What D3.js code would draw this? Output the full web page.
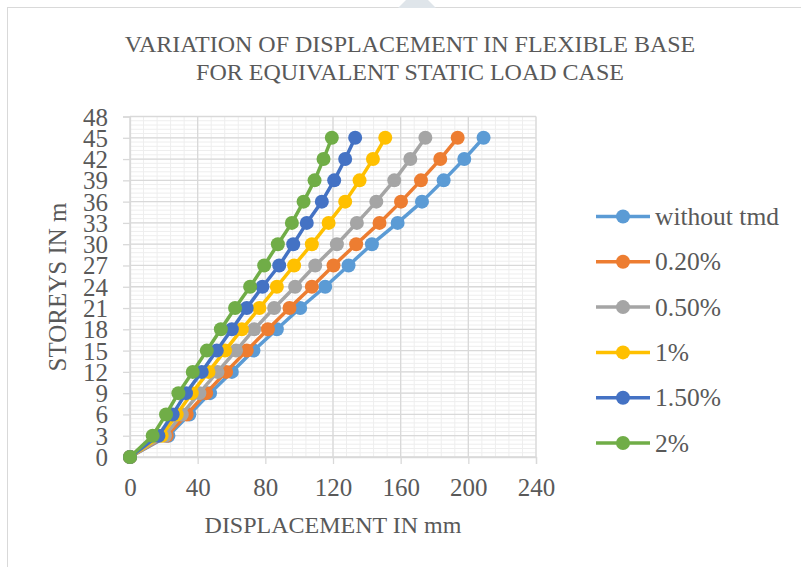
<!DOCTYPE html>
<html>
<head>
<meta charset="utf-8">
<script src="https://cdn.jsdelivr.net/npm/d3@7"></script>
<style>
  body { margin: 0; background: #fff; }
  text { font-family: "Liberation Serif", "Times New Roman", serif; fill: #595959; }
</style>
</head>
<body>
<div id="chart"></div>
<script>
  // storeys (m) and displacement (mm)
  const storeys = [0, 3, 6, 9, 12, 15, 18, 21, 24, 27, 30, 33, 36, 39, 42, 45];
  const seriesNames = ["without tmd", "0.20%", "0.50%", "1%", "1.50%", "2%"];
  const seriesColors = ["#5b9bd5", "#ed7d31", "#a5a5a5", "#ffc000", "#4472c4", "#70ad47"];
  const withoutTmd = [0, 22.7, 35.1, 47.3, 60.2, 73, 86.8, 100.6, 115.4, 129.2, 143, 158.2, 172.6, 185.4, 197.6, 209];
  const tmd020 = [0, 21.7, 33.5, 45, 56.8, 69, 81.5, 94.3, 107.5, 120.3, 133.7, 147.5, 160.2, 172, 183.4, 193.7];
  const tmd050 = [0, 20.7, 30.6, 41, 51.7, 62.7, 73.4, 85.2, 97.6, 109.5, 122.3, 134.1, 145.6, 156.2, 165.7, 174.6];
  const tmd100 = [0, 18.7, 27.6, 36.5, 46.4, 56.2, 66.1, 76.5, 86.8, 97, 107.5, 117.4, 127.2, 135.7, 143.6, 150.9];
  const tmd150 = [0, 16.8, 25.2, 33.1, 42.4, 51.3, 60.2, 69, 78.3, 88.2, 96.5, 104.5, 113.4, 120.7, 127.2, 133.1];
  const tmd200 = [0, 13.4, 21.3, 28.6, 37.1, 45.4, 53.7, 62.1, 71, 79.3, 87.4, 95.7, 102.6, 109.1, 114.4, 119.3];
  const xTicks = [0, 40, 80, 120, 160, 200, 240];
  const yTicks = d3.range(0, 49, 3);

  const allSeries = [withoutTmd, tmd020, tmd050, tmd100, tmd150, tmd200];

  const width = 801, height = 567;
  const svg = d3.select("#chart").append("svg")
    .attr("width", width)
    .attr("height", height);

  // chart frame
  svg.append("rect")
    .attr("x", 7.5).attr("y", 7.5)
    .attr("width", width).attr("height", height)
    .attr("fill", "#fff")
    .attr("stroke", "#d9d9d9");
  svg.append("path")
    .attr("d", "M398,8 L406,0 L428,0 L436,8 Z")
    .attr("fill", "#dfe5ea");

  const x = d3.scaleLinear().domain([0, 240]).range([130, 536]);
  const y = d3.scaleLinear().domain([0, 48]).range([457, 116.5]);

  // minor grid
  const grid = svg.append("g");
  grid.selectAll(".vmin")
    .data(d3.range(0, 241, 8))
    .enter().append("line")
    .attr("x1", d => x(d)).attr("x2", d => x(d))
    .attr("y1", y(0)).attr("y2", y(48))
    .attr("stroke", "#eeeeee").attr("stroke-width", 1);
  grid.selectAll(".hmin")
    .data(d3.range(0, 241).map(i => i * 0.2).filter((d, i) => i % 3 === 0))
    .enter().append("line")
    .attr("x1", x(0)).attr("x2", x(240))
    .attr("y1", d => y(d)).attr("y2", d => y(d))
    .attr("stroke", "#eeeeee").attr("stroke-width", 1);
  // major grid
  grid.selectAll(".vmaj")
    .data(xTicks)
    .enter().append("line")
    .attr("x1", d => x(d)).attr("x2", d => x(d))
    .attr("y1", y(0)).attr("y2", y(48))
    .attr("stroke", "#d9d9d9").attr("stroke-width", 1.3);
  grid.selectAll(".hmaj")
    .data(yTicks)
    .enter().append("line")
    .attr("x1", x(0)).attr("x2", x(240))
    .attr("y1", d => y(d)).attr("y2", d => y(d))
    .attr("stroke", "#d9d9d9").attr("stroke-width", 1.3);

  // axes
  const xAxis = svg.append("g")
    .attr("transform", `translate(0,${y(0)})`)
    .call(d3.axisBottom(x).tickValues(xTicks).tickSize(7).tickPadding(14));
  const yAxis = svg.append("g")
    .attr("transform", `translate(${x(0)},0)`)
    .call(d3.axisLeft(y).tickValues(yTicks).tickSize(7).tickPadding(15));
  [xAxis, yAxis].forEach(a => {
    a.selectAll("path,line").attr("stroke", "#d9d9d9").attr("stroke-width", 1.3);
    a.selectAll("text")
      .style("font-family", "'Liberation Serif', serif")
      .style("font-size", "25px")
      .attr("fill", "#595959");
  });
  yAxis.selectAll("text").attr("dy", "0.34em");

  // series
  const line = d3.line()
    .x(d => x(d[1]))
    .y(d => y(d[0]));

  allSeries.forEach((vals, i) => {
    const pts = storeys.map((s, j) => [s, vals[j]]);
    const g = svg.append("g");
    g.append("path")
      .datum(pts)
      .attr("fill", "none")
      .attr("stroke", seriesColors[i])
      .attr("stroke-width", 3.5)
      .attr("stroke-linejoin", "round")
      .attr("d", line);
    g.selectAll("circle")
      .data(pts)
      .enter().append("circle")
      .attr("cx", d => x(d[1]))
      .attr("cy", d => y(d[0]))
      .attr("r", 7)
      .attr("fill", seriesColors[i]);
  });

  // legend
  const legend = svg.append("g");
  seriesNames.forEach((name, i) => {
    const ly = 216.5 + i * 45.3;
    legend.append("line")
      .attr("x1", 596).attr("x2", 650)
      .attr("y1", ly).attr("y2", ly)
      .attr("stroke", seriesColors[i])
      .attr("stroke-width", 3.5);
    legend.append("circle")
      .attr("cx", 623).attr("cy", ly).attr("r", 7)
      .attr("fill", seriesColors[i]);
    legend.append("text")
      .attr("x", 655).attr("y", ly)
      .attr("dy", "0.34em")
      .style("font-size", "25.5px")
      .text(name);
  });

  // titles
  const title = svg.append("text")
    .attr("x", 410)
    .attr("text-anchor", "middle")
    .style("font-size", "24px");
  title.append("tspan").attr("x", 410).attr("y", 52).text("VARIATION OF DISPLACEMENT IN FLEXIBLE BASE");
  title.append("tspan").attr("x", 410).attr("y", 80).text("FOR EQUIVALENT STATIC LOAD CASE");

  svg.append("text")
    .attr("x", 333).attr("y", 533)
    .attr("text-anchor", "middle")
    .style("font-size", "24px")
    .text("DISPLACEMENT IN mm");

  svg.append("text")
    .attr("transform", `translate(66,287) rotate(-90)`)
    .attr("text-anchor", "middle")
    .style("font-size", "25px")
    .text("STOREYS IN m");
</script>
</body>
</html>
